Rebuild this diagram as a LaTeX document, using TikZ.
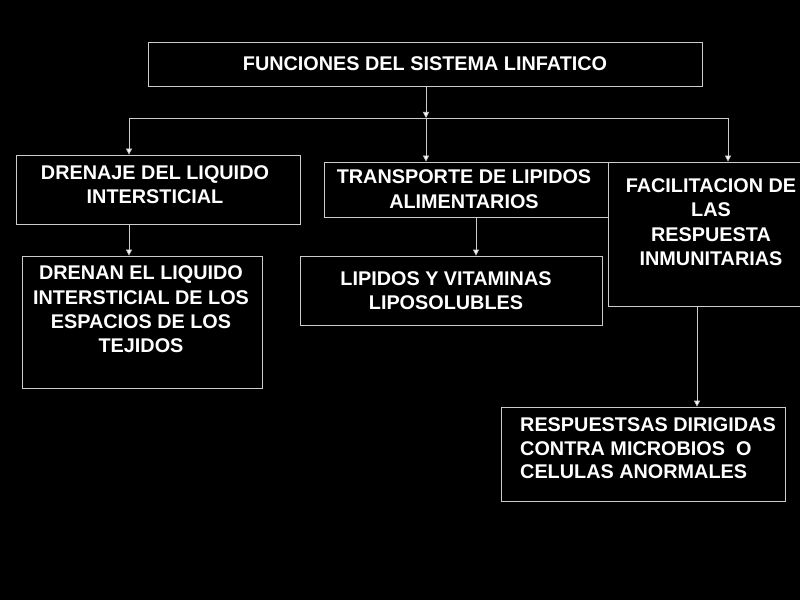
\documentclass[tikz,border=0pt]{standalone}
\usepackage{fontspec}
\setmainfont{Liberation Sans}
\usetikzlibrary{arrows.meta}

\tikzset{
  caja/.style={draw=white!80!black, line width=0.8bp, rectangle, inner sep=0pt},
  texto/.style={text=white, font=\fontsize{19.9}{24.5}\selectfont\bfseries, align=center, inner sep=0pt},
  flecha/.style={draw=white!80!black, line width=0.8bp, -{Triangle[length=6bp,width=6bp,fill=white]}},
  linea/.style={draw=white!80!black, line width=0.8bp}
}

\begin{document}
\begin{tikzpicture}[x=1bp, y=-1bp]
  % Fondo
  \fill[black] (0,0) rectangle (800,600);
  \useasboundingbox (0,0) rectangle (800,600);
  % Cajas
  \node[caja, minimum width=554bp, minimum height=44bp] (funciones) at (425,64) {};
  \node[caja, minimum width=284bp, minimum height=69bp] (drenaje) at (158,189.5) {};
  \node[caja, minimum width=240bp, minimum height=132bp] (drenan) at (142,322) {};
  \node[caja, minimum width=284bp, minimum height=55bp] (transporte) at (466,189.5) {};
  \node[caja, minimum width=302bp, minimum height=69bp] (lipidos) at (451,290.5) {};
  \node[caja, minimum width=198bp, minimum height=144bp] (facilitacion) at (707,234) {};
  \node[caja, minimum width=284bp, minimum height=94bp] (respuestas) at (643,454) {};
  % Textos
  \node[texto] (funciones-t) at (425,64) {FUNCIONES DEL SISTEMA LINFATICO};
  \node[texto] (drenaje-t) at (155,184.5) {DRENAJE DEL LIQUIDO\\INTERSTICIAL};
  \node[texto] (drenan-t) at (141,309.5) {DRENAN EL LIQUIDO\\INTERSTICIAL DE LOS\\ESPACIOS DE LOS\\TEJIDOS};
  \node[texto] (transporte-t) at (464,189) {TRANSPORTE DE LIPIDOS\\ALIMENTARIOS};
  \node[texto] (lipidos-t) at (446,290.5) {LIPIDOS Y VITAMINAS\\LIPOSOLUBLES};
  \node[texto] (facilitacion-t) at (711,222) {FACILITACION DE\\LAS\\RESPUESTA\\INMUNITARIAS};
  \node[texto, align=left, anchor=west, font=\fontsize{19.9}{23.5}\selectfont\bfseries] (respuestas-t) at (520,448.5) {RESPUESTSAS DIRIGIDAS\\CONTRA MICROBIOS\ \ O\\CELULAS ANORMALES};
  % Conectores
  \coordinate (barra) at (426,118);
  \coordinate (barra-izq) at (129,118);
  \coordinate (barra-der) at (728,118);
  \draw[flecha] (funciones.south -| barra) -- (barra);
  \draw[linea] (barra-izq) -- (barra-der);
  \draw[flecha] (barra-izq) -- (barra-izq |- drenaje.north);
  \draw[flecha] (barra) -- (barra |- transporte.north);
  \draw[flecha] (barra-der) -- (barra-der |- facilitacion.north);
  \draw[flecha] (barra-izq |- drenaje.south) -- (barra-izq |- drenan.north);
  \draw[flecha] ([xshift=10bp]transporte.south) -- ([xshift=10bp]transporte.south |- lipidos.north);
  \draw[flecha] ([xshift=-10bp]facilitacion.south) -- ([xshift=-10bp]facilitacion.south |- respuestas.north);
\end{tikzpicture}
\end{document}
